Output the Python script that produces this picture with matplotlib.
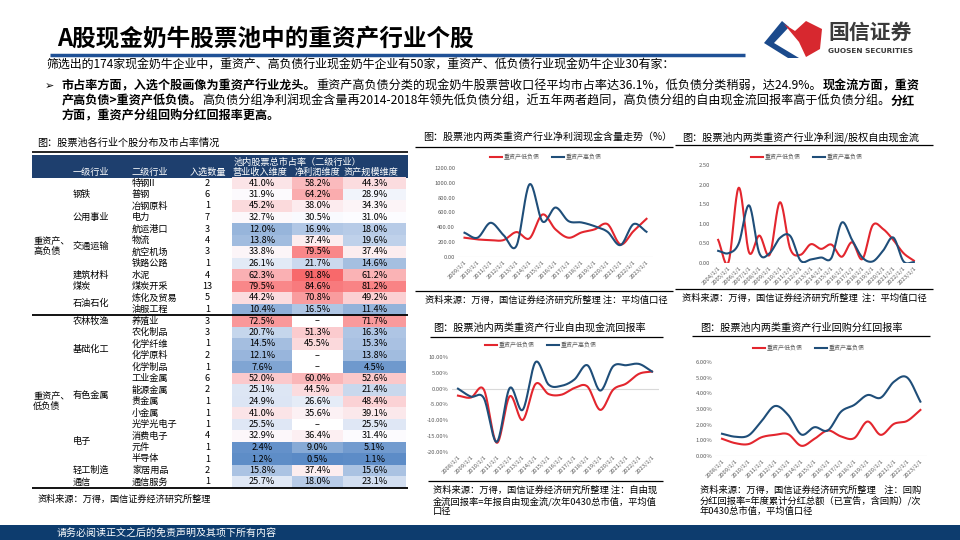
import numpy as np
import matplotlib
matplotlib.use('Agg')
import matplotlib.pyplot as plt
from matplotlib.patches import Rectangle, Polygon

plt.rcParams['font.family'] = ['Noto Sans CJK SC', 'DejaVu Sans']
plt.rcParams['axes.unicode_minus'] = False

# ---- table data ----
level2 = ['特钢II', '普钢', '冶钢原料', '电力', '航运港口', '物流', '航空机场', '铁路公路',
          '水泥', '煤炭开采', '炼化及贸易', '油服工程',
          '养殖业', '农化制品', '化学纤维', '化学原料', '化学制品', '工业金属', '能源金属',
          '贵金属', '小金属', '光学光电子', '消费电子', '元件', '半导体', '家居用品', '通信服务']
n_sel = [2, 6, 1, 7, 3, 4, 3, 1, 4, 13, 5, 1, 3, 3, 1, 2, 1, 6, 2, 1, 1, 1, 4, 1, 1, 2, 1]
share_rev = [41.0, 31.9, 45.2, 32.7, 12.0, 13.8, 33.8, 26.1, 62.3, 79.5, 44.2, 10.4,
             72.5, 20.7, 14.5, 12.1, 7.6, 52.0, 25.1, 24.9, 41.0, 25.5, 32.9, 2.4, 1.2, 15.8, 25.7]
share_np = [58.2, 64.2, 38.0, 30.5, 16.9, 37.4, 79.5, 21.7, 91.8, 84.6, 70.8, 16.5,
            None, 51.3, 45.5, None, None, 60.0, 44.5, 26.6, 35.6, None, 36.4, 9.0, 0.5, 37.4, 18.0]
share_asset = [44.3, 28.9, 34.3, 31.0, 18.0, 19.6, 37.4, 14.6, 61.2, 81.2, 49.2, 11.4,
               71.7, 16.3, 15.3, 13.8, 4.5, 52.6, 21.4, 48.4, 39.1, 25.5, 31.4, 5.1, 1.1, 15.6, 23.1]
level1 = ['钢铁', '公用事业', '交通运输', '建筑材料', '煤炭', '石油石化',
          '农林牧渔', '基础化工', '有色金属', '电子', '轻工制造', '通信']
level1_rows = [(0, 2), (3, 3), (4, 7), (8, 8), (9, 9), (10, 11),
               (12, 12), (13, 16), (17, 20), (21, 24), (25, 25), (26, 26)]
group_names = ['重资产、\n高负债', '重资产、\n低负债']
group_rows = [(0, 11), (12, 26)]

# ---- chart data ----
years_a = [f'{y}/1/1' for y in range(2009, 2024)]
cash_low = [260, 237, 228, 228, 336, 251, 573, 372, 260, 331, 372, 443, 170, 349, 515]
cash_high = [327, 260, 461, 296, 152, 980, 479, 667, 484, 466, 416, 340, 161, 443, 340]

years_b = [f'{y}/1/1' for y in range(2004, 2024)]
fcf_low = [0.59, 0.02, 1.92, 0.27, 0.70, 0.21, 1.55, 0.36, 0.21, 0.48, 0.36, 0.47, 0.16,
           0.53, 0.10, 0.96, 0.87, 0.59, 0.25, 0.06]
fcf_high = [0.31, 0.25, 0.50, 1.47, 0.25, 0.25, 0.64, 0.69, 0.06, 0.09, 0.14, 0.13, 1.03,
            0.59, 0.14, 0.04, 0.31, 0.65, 0.04, 0.02]

years_c = [f'{y}/1/1' for y in range(2008, 2024)]
fcfy_low = [-2.2, -2.8, -0.3, -17.1, -2.4, -9.9, 1.5, -1.7, -1.9, 0.2, 0.7, -6.7, -0.3, 1.6, 4.7, 5.4]
fcfy_high = [0.0, -2.5, -3.0, -16.8, 0.2, -6.7, 8.4, 1.3, 0.9, 2.9, 7.4, -0.6, 7.1, 7.4, 7.8, 5.4]

div_low = [1.10, 0.82, 0.76, 1.20, 1.35, 1.39, 0.65, 1.10, 1.63, 1.25, 1.14, 2.20, 1.35, 2.05, 2.24, 2.94]
div_high = [1.42, 1.23, 1.31, 2.24, 3.19, 2.62, 1.37, 1.84, 1.63, 2.83, 3.26, 3.89, 3.72, 4.74, 5.01, 3.47]

RED = '#E3262E'
BLUE = '#1F4E79'
NAVY = '#1E3F6E'
GREY = '#595959'

W, H = 960, 540
fig = plt.figure(figsize=(9.6, 5.4), dpi=100)
bg = fig.add_axes([0, 0, 1, 1])
bg.set_xlim(0, W)
bg.set_ylim(H, 0)
bg.axis('off')
renderer = fig.canvas.get_renderer()


def T(x, y, s, **kw):
    kw.setdefault('va', 'center')
    kw.setdefault('ha', 'left')
    return bg.text(x, y, s, **kw)


def hline(x0, x1, y, lw=0.9, c='black'):
    bg.plot([x0, x1], [y, y], color=c, lw=lw, solid_capstyle='butt')


def rich(x, y, parts, size):
    for s, bold in parts:
        t = T(x, y, s, fontsize=size, fontweight='bold' if bold else 'normal')
        x += t.get_window_extent(renderer).width
    return x


# ---- header ----
T(57, 39, 'A股现金奶牛股票池中的重资产行业个股', fontsize=17, fontweight='bold')
hline(50, 745, 55, lw=2.5, c='#1F5196')
# logo
bg.add_patch(Polygon([(782, 21), (789, 27), (774, 43), (799, 58), (788, 58), (764, 43)],
                     closed=True, color='#1B4A8C', lw=0))
bg.add_patch(Polygon([(784, 24), (795, 31), (806, 21), (822, 29), (820, 49), (806, 57),
                      (799, 42)], closed=True, color='#D7282F', lw=0))
T(828, 32, '国信证券', fontsize=15, fontweight='bold', color='#3A3A3A')
T(828, 51, 'GUOSEN SECURITIES', fontsize=5.3, fontweight='bold', color='#3A3A3A',
  family='DejaVu Sans')

T(46, 65, '筛选出的174家现金奶牛企业中，重资产、高负债行业现金奶牛企业有50家，'
          '重资产、低负债行业现金奶牛企业30有家：', fontsize=8.6)
T(45, 86, '➢', fontsize=8, family='DejaVu Sans')
rich(62, 86, [('市占率方面，入选个股画像为重资产行业龙头。', True),
              ('重资产高负债分类的现金奶牛股票营收口径平均市占率达36.1%，低负债分类稍弱，达24.9%。', False),
              ('现金流方面，重资', True)], 8.7)
rich(62, 101, [('产高负债>重资产低负债。', True),
               ('高负债分组净利润现金含量再2014-2018年领先低负债分组，近五年两者趋同，'
                '高负债分组的自由现金流回报率高于低负债分组。', False),
               ('分红', True)], 8.7)
rich(62, 116, [('方面，重资产分组回购分红回报率更高。', True)], 8.7)

# ---- table ----
T(37, 143, '图：股票池各行业个股分布及市占率情况', fontsize=7.3)
hline(32, 408, 152, lw=1.2)
bg.add_patch(Rectangle((32, 155), 376, 22.5, color=NAVY, lw=0))
T(234, 162, '池内股票总市占率（二级行业）', fontsize=6.6, color='white')
T(73, 172.5, '一级行业', fontsize=6.6, color='white')
T(132, 172.5, '二级行业', fontsize=6.6, color='white')
T(207.5, 172.5, '入选数量', fontsize=6.6, color='white', ha='center')
for xc, s in zip([260, 317, 371], ['营业收入维度', '净利润维度', '资产规模维度']):
    T(xc, 172.5, s, fontsize=6.6, color='white', ha='center')

cols = [share_rev, share_np, share_asset]
allv = np.array([v for c in cols for v in c if v is not None])
vmin, vmid, vmax = allv.min(), np.median(allv), allv.max()
c_lo = np.array([0x5A, 0x8A, 0xC6]) / 255
c_mid = np.array([0xFC, 0xFC, 0xFF]) / 255
c_hi = np.array([0xF8, 0x69, 0x6B]) / 255


def scale_color(v):
    if v <= vmid:
        f = (v - vmin) / (vmid - vmin)
        return c_lo + (c_mid - c_lo) * f
    f = (v - vmid) / (vmax - vmid)
    return c_mid + (c_hi - c_mid) * f


row_top, row_h = 177.25, 11.5
cell_x = [(232, 292), (292, 343), (343, 406)]
for i, name in enumerate(level2):
    yc = row_top + row_h * (i + 0.5)
    T(132, yc, name, fontsize=6.6)
    T(207.5, yc, str(n_sel[i]), fontsize=6.6, ha='center')
    for (x0, x1), col in zip(cell_x, cols):
        v = col[i]
        if v is None:
            T((x0 + x1) / 2, yc, '–', fontsize=6.6, ha='center')
            continue
        bg.add_patch(Rectangle((x0, row_top + row_h * i), x1 - x0, row_h,
                               color=scale_color(v), lw=0))
        T((x0 + x1) / 2, yc, f'{v:.1f}%', fontsize=6.6, ha='center')
for name, (a, b) in zip(level1, level1_rows):
    T(73, row_top + row_h * (a + b + 1) / 2, name, fontsize=6.6)
for name, (a, b) in zip(group_names, group_rows):
    T(33, row_top + row_h * (a + b + 1) / 2, name, fontsize=6.6, linespacing=1.2)
hline(32, 408, row_top + row_h * 12, lw=1.3)
hline(32, 408, row_top + row_h * 27, lw=1.3)
T(38, 499, '资料来源：万得，国信证券经济研究所整理', fontsize=6.6)


# ---- charts ----
def smooth(y, n=20):
    y = np.asarray(y, float)
    p = np.concatenate([[2 * y[0] - y[1]], y, [2 * y[-1] - y[-2]]])
    xs, ys = [], []
    t = np.linspace(0, 1, n, endpoint=False)
    for i in range(len(y) - 1):
        p0, p1, p2, p3 = p[i:i + 4]
        ys.append(0.5 * (2 * p1 + (-p0 + p2) * t + (2 * p0 - 5 * p1 + 4 * p2 - p3) * t ** 2
                         + (-p0 + 3 * p1 - 3 * p2 + p3) * t ** 3))
        xs.append(i + t)
    xs.append([len(y) - 1])
    ys.append([y[-1]])
    return np.concatenate(xs), np.concatenate(ys)


def chart(box, labels, low, high, ylim, ticks, fmt):
    l, t, r, b = box
    ax = fig.add_axes([l / W, 1 - b / H, (r - l) / W, (b - t) / H])
    ax.patch.set_alpha(0)
    ax.axhline(0, color='#D9D9D9', lw=0.8, zorder=0)
    ax.plot(*smooth(low), color=RED, lw=1.5)
    ax.plot(*smooth(high), color=BLUE, lw=1.5)
    ax.set_xlim(-0.5, len(labels) - 0.5)
    ax.set_ylim(*ylim)
    ax.set_xticks(range(len(labels)))
    ax.set_xticklabels(labels, rotation=45, ha='right', rotation_mode='anchor',
                       fontsize=4.2, color=GREY)
    ax.set_yticks(ticks)
    ax.set_yticklabels([fmt.format(v) for v in ticks], fontsize=4.2, color=GREY)
    ax.tick_params(length=0, pad=2)
    for s in ax.spines.values():
        s.set_visible(False)
    return ax


def legend(x, y):
    bg.plot([x, x + 12], [y, y], color=RED, lw=1.5)
    T(x + 14, y, '重资产低负债', fontsize=4.3, color=GREY)
    bg.plot([x + 62, x + 74], [y, y], color=BLUE, lw=1.5)
    T(x + 76, y, '重资产高负债', fontsize=4.3, color=GREY)


# chart 1
T(423, 138, '图：股票池内两类重资产行业净利润现金含量走势（%）', fontsize=7.2)
hline(415, 673, 147)
legend(490, 157)
chart((458, 168, 653, 257), years_a, cash_low, cash_high, (0, 1200),
      [0, 200, 400, 600, 800, 1000, 1200], '{:.2f}')
hline(415, 673, 291)
T(425, 300, '资料来源：万得，国信证券经济研究所整理 注：平均值口径', fontsize=6.7)

# chart 2
T(682, 137, '图：股票池内两类重资产行业净利润/股权自由现金流', fontsize=7.3)
hline(675, 933, 145)
legend(751, 157)
chart((713, 165, 919, 263), years_b, fcf_low, fcf_high, (0, 2.5),
      [0, 0.5, 1.0, 1.5, 2.0, 2.5], '{:.2f}')
hline(675, 933, 289)
T(682, 298, '资料来源：万得，国信证券经济研究所整理  注：平均值口径', fontsize=6.7)

# chart 3
T(433, 328, '图：股票池内两类重资产行业自由现金流回报率', fontsize=7.3)
hline(430, 663, 337)
legend(485, 345)
chart((451.5, 357, 658.5, 452), years_c, fcfy_low, fcfy_high, (-20, 10),
      [-20, -15, -10, -5, 0, 5, 10], '{:.2f}%')
hline(428, 663, 481)
T(433, 501, '资料来源：万得，国信证券经济研究所整理 注：自由现\n'
            '金流回报率=年报自由现金流/次年0430总市值，平均值\n口径',
  fontsize=6.7, va='center', linespacing=1.15)

# chart 4
T(700, 328, '图：股票池内两类重资产行业回购分红回报率', fontsize=7.3)
hline(692, 930, 336)
legend(753, 348)
chart((715.4, 362, 927, 456), years_c, div_low, div_high, (0, 6),
      [0, 1, 2, 3, 4, 5, 6], '{:.2f}%')
T(700, 501, '资料来源：万得，国信证券经济研究所整理    注：回购\n'
            '分红回报率=年度累计分红总额（已宣告，含回购）/次\n年0430总市值，平均值口径',
  fontsize=6.7, va='center', linespacing=1.15)

# ---- footer ----
bg.add_patch(Rectangle((0, 525), W, 15, color='#0D3C6E', lw=0))
T(57, 533, '请务必阅读正文之后的免责声明及其项下所有内容', fontsize=7.2, color='white')

fig.savefig('out.png', dpi=100)
plt.close('all')
